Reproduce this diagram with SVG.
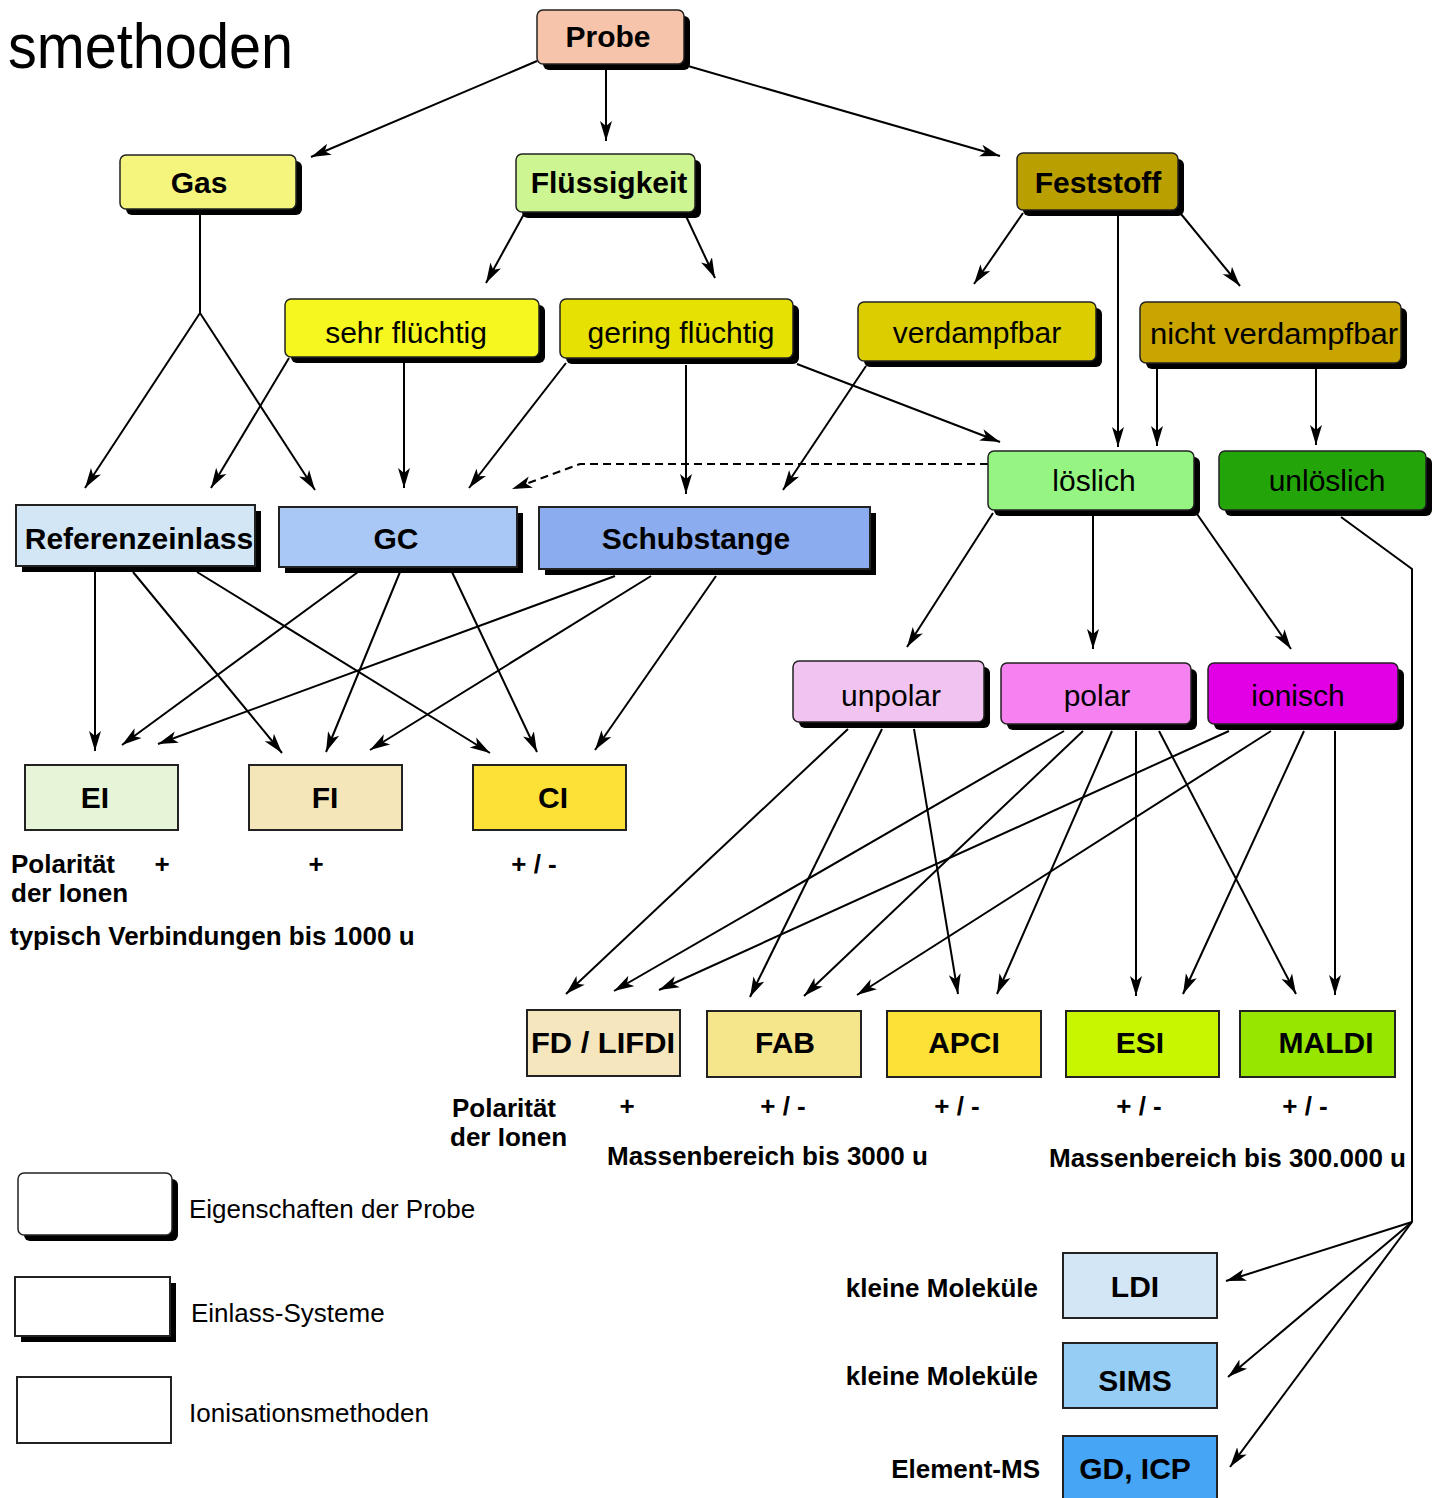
<svg xmlns="http://www.w3.org/2000/svg" width="1440" height="1498" viewBox="0 0 1440 1498">
<defs>
<style>
text{font-family:"Liberation Sans",Arial,sans-serif;fill:#000}
.nb{font-size:30px;font-weight:bold;text-anchor:middle}
.nr{font-size:30px;text-anchor:middle}
.an{font-size:26px;font-weight:bold}
.lg{font-size:26px}
.sh{fill:#000}
.rn{stroke:#222;stroke-width:1.5}
.sq{stroke:#222;stroke-width:2}
.c{fill:none;stroke:#000;stroke-width:2;marker-end:url(#ah)}
.cl{fill:none;stroke:#000;stroke-width:2}
.d{fill:none;stroke:#000;stroke-width:2;stroke-dasharray:8,5;marker-end:url(#ah)}
</style>
<marker id="ah" viewBox="0 0 20 14" refX="20" refY="7" markerWidth="20" markerHeight="14" markerUnits="userSpaceOnUse" orient="auto">
<path d="M0,1 L20,7 L0,13 L5,7 z" fill="#000"/>
</marker>
</defs>
<rect width="1440" height="1498" fill="#fff"/>
<text x="8" y="68" font-size="63" textLength="285" lengthAdjust="spacingAndGlyphs">smethoden</text>

<g id="connectors">
<line class="c" x1="537" y1="61" x2="311" y2="157"/>
<line class="c" x1="606" y1="68" x2="606" y2="141"/>
<line class="c" x1="688" y1="66" x2="1000" y2="156"/>
<polyline class="cl" points="200,212 200,313"/>
<line class="c" x1="200" y1="313" x2="85" y2="488"/>
<line class="c" x1="200" y1="313" x2="315" y2="490"/>
<line class="c" x1="524" y1="214" x2="486" y2="283"/>
<line class="c" x1="685" y1="214" x2="715" y2="278"/>
<line class="c" x1="1023" y1="213" x2="974" y2="284"/>
<line class="c" x1="1118" y1="213" x2="1118" y2="447"/>
<line class="c" x1="1181" y1="214" x2="1240" y2="286"/>
<line class="c" x1="289" y1="358" x2="211" y2="488"/>
<line class="c" x1="404" y1="362" x2="404" y2="488"/>
<line class="c" x1="566" y1="363" x2="469" y2="488"/>
<line class="c" x1="686" y1="365" x2="686" y2="494"/>
<line class="c" x1="797" y1="364" x2="1000" y2="442"/>
<line class="c" x1="866" y1="366" x2="783" y2="490"/>
<line class="c" x1="1157" y1="368" x2="1157" y2="446"/>
<line class="c" x1="1316" y1="368" x2="1316" y2="445"/>
<polyline class="d" points="988,464 580,464 512,489"/>
<line class="c" x1="993" y1="513" x2="907" y2="647"/>
<line class="c" x1="1093" y1="516" x2="1093" y2="649"/>
<line class="c" x1="1197" y1="514" x2="1291" y2="649"/>
<polyline class="cl" points="1341,517 1412,569 1412,1222"/>
<line class="c" x1="1412" y1="1222" x2="1226" y2="1281"/>
<line class="c" x1="1412" y1="1222" x2="1228" y2="1377"/>
<line class="c" x1="1412" y1="1222" x2="1230" y2="1467"/>
<line class="c" x1="95" y1="572" x2="95" y2="751"/>
<line class="c" x1="133" y1="572" x2="282" y2="753"/>
<line class="c" x1="197" y1="572" x2="490" y2="753"/>
<line class="c" x1="358" y1="572" x2="122" y2="745"/>
<line class="c" x1="400" y1="572" x2="326" y2="752"/>
<line class="c" x1="452" y1="572" x2="537" y2="752"/>
<line class="c" x1="615" y1="576" x2="158" y2="744"/>
<line class="c" x1="651" y1="576" x2="370" y2="750"/>
<line class="c" x1="716" y1="576" x2="595" y2="750"/>
<line class="c" x1="848" y1="729" x2="566" y2="994"/>
<line class="c" x1="882" y1="729" x2="750" y2="997"/>
<line class="c" x1="914" y1="729" x2="958" y2="994"/>
<line class="c" x1="1064" y1="731" x2="614" y2="991"/>
<line class="c" x1="1083" y1="731" x2="804" y2="996"/>
<line class="c" x1="1112" y1="731" x2="997" y2="994"/>
<line class="c" x1="1136" y1="731" x2="1136" y2="996"/>
<line class="c" x1="1159" y1="731" x2="1296" y2="994"/>
<line class="c" x1="1229" y1="731" x2="659" y2="990"/>
<line class="c" x1="1271" y1="731" x2="857" y2="995"/>
<line class="c" x1="1304" y1="731" x2="1183" y2="994"/>
<line class="c" x1="1335" y1="731" x2="1335" y2="995"/>
</g>

<g id="probe"><rect class="sh" x="543" y="16" width="147" height="54" rx="6"/><rect class="rn" x="537" y="10" width="147" height="54" rx="6" fill="#f5c4aa"/><text class="nb" x="608" y="47">Probe</text></g>
<g id="gas"><rect class="sh" x="126" y="161" width="176" height="54" rx="6"/><rect class="rn" x="120" y="155" width="176" height="54" rx="6" fill="#f5f57d"/><text class="nb" x="199" y="193">Gas</text></g>
<g id="fluessigkeit"><rect class="sh" x="522" y="160" width="179" height="58" rx="6"/><rect class="rn" x="516" y="154" width="179" height="58" rx="6" fill="#cdf591"/><text class="nb" x="609" y="193">Flüssigkeit</text></g>
<g id="feststoff"><rect class="sh" x="1023" y="159" width="161" height="57" rx="6"/><rect class="rn" x="1017" y="153" width="161" height="57" rx="6" fill="#b9a000"/><text class="nb" x="1098" y="193">Feststoff</text></g>

<g id="sehr-fluechtig"><rect class="sh" x="291" y="305" width="254" height="58" rx="6"/><rect class="rn" x="285" y="299" width="254" height="58" rx="6" fill="#f7f720"/><text class="nr" x="406" y="343">sehr flüchtig</text></g>
<g id="gering-fluechtig"><rect class="sh" x="566" y="305" width="233" height="59" rx="6"/><rect class="rn" x="560" y="299" width="233" height="59" rx="6" fill="#e6e100"/><text class="nr" x="681" y="343">gering flüchtig</text></g>
<g id="verdampfbar"><rect class="sh" x="864" y="308" width="238" height="59" rx="6"/><rect class="rn" x="858" y="302" width="238" height="59" rx="6" fill="#dccd00"/><text class="nr" x="977" y="343">verdampfbar</text></g>
<g id="nicht-verdampfbar"><rect class="sh" x="1146" y="308" width="261" height="61" rx="6"/><rect class="rn" x="1140" y="302" width="261" height="61" rx="6" fill="#c8a500"/><text class="nr" x="1274" y="344" textLength="248" lengthAdjust="spacingAndGlyphs">nicht verdampfbar</text></g>

<g id="loeslich"><rect class="sh" x="994" y="457" width="206" height="59" rx="6"/><rect class="rn" x="988" y="451" width="206" height="59" rx="6" fill="#96f582"/><text class="nr" x="1094" y="491">löslich</text></g>
<g id="unloeslich"><rect class="sh" x="1225" y="457" width="207" height="59" rx="6"/><rect class="rn" x="1219" y="451" width="207" height="59" rx="6" fill="#23a50a"/><text class="nr" x="1327" y="491">unlöslich</text></g>

<g id="referenzeinlass"><rect class="sh" x="22" y="511" width="239" height="61"/><rect class="sq" x="16" y="505" width="239" height="61" fill="#d2e6f5"/><text class="nb" x="139" y="549">Referenzeinlass</text></g>
<g id="gc"><rect class="sh" x="285" y="513" width="238" height="60"/><rect class="sq" x="279" y="507" width="238" height="60" fill="#aac8f5"/><text class="nb" x="396" y="549">GC</text></g>
<g id="schubstange"><rect class="sh" x="545" y="513" width="331" height="62"/><rect class="sq" x="539" y="507" width="331" height="62" fill="#8cacf0"/><text class="nb" x="696" y="549">Schubstange</text></g>

<g id="unpolar"><rect class="sh" x="799" y="667" width="191" height="61" rx="6"/><rect class="rn" x="793" y="661" width="191" height="61" rx="6" fill="#f0c3f0"/><text class="nr" x="891" y="706">unpolar</text></g>
<g id="polar"><rect class="sh" x="1007" y="669" width="190" height="61" rx="6"/><rect class="rn" x="1001" y="663" width="190" height="61" rx="6" fill="#f582f0"/><text class="nr" x="1097" y="706">polar</text></g>
<g id="ionisch"><rect class="sh" x="1214" y="669" width="190" height="61" rx="6"/><rect class="rn" x="1208" y="663" width="190" height="61" rx="6" fill="#e100e6"/><text class="nr" x="1298" y="706">ionisch</text></g>

<g id="ei"><rect class="sq" x="25" y="765" width="153" height="65" fill="#e6f5d7"/><text class="nb" x="95" y="808">EI</text></g>
<g id="fi"><rect class="sq" x="249" y="765" width="153" height="65" fill="#f5e6b9"/><text class="nb" x="325" y="808">FI</text></g>
<g id="ci"><rect class="sq" x="473" y="765" width="153" height="65" fill="#fde136"/><text class="nb" x="553" y="808">CI</text></g>

<g id="fd-lifdi"><rect class="sq" x="527" y="1010" width="153" height="66" fill="#f5e6be"/><text class="nb" x="603" y="1053" textLength="144" lengthAdjust="spacingAndGlyphs">FD / LIFDI</text></g>
<g id="fab"><rect class="sq" x="707" y="1011" width="154" height="66" fill="#f5e68c"/><text class="nb" x="785" y="1053">FAB</text></g>
<g id="apci"><rect class="sq" x="887" y="1011" width="154" height="66" fill="#fde136"/><text class="nb" x="964" y="1053">APCI</text></g>
<g id="esi"><rect class="sq" x="1066" y="1011" width="153" height="66" fill="#c8f500"/><text class="nb" x="1140" y="1053">ESI</text></g>
<g id="maldi"><rect class="sq" x="1240" y="1011" width="155" height="66" fill="#96e600"/><text class="nb" x="1326" y="1053">MALDI</text></g>

<g id="ldi"><rect class="sq" x="1063" y="1253" width="154" height="65" fill="#d2e6f5"/><text class="nb" x="1135" y="1297">LDI</text></g>
<g id="sims"><rect class="sq" x="1063" y="1343" width="154" height="65" fill="#96cdf5"/><text class="nb" x="1135" y="1391">SIMS</text></g>
<g id="gd-icp"><rect class="sq" x="1063" y="1436" width="154" height="70" fill="#46a5f5"/><text class="nb" x="1135" y="1479">GD, ICP</text></g>

<g id="labels">
<text class="an" x="11" y="873">Polarität</text>
<text class="an" x="11" y="902">der Ionen</text>
<text class="an" x="162" y="873" text-anchor="middle">+</text>
<text class="an" x="316" y="873" text-anchor="middle">+</text>
<text class="an" x="534" y="873" text-anchor="middle">+ / -</text>
<text class="an" x="10" y="945">typisch Verbindungen bis 1000 u</text>
<text class="an" x="452" y="1117">Polarität</text>
<text class="an" x="450" y="1146">der Ionen</text>
<text class="an" x="627" y="1115" text-anchor="middle">+</text>
<text class="an" x="783" y="1115" text-anchor="middle">+ / -</text>
<text class="an" x="957" y="1115" text-anchor="middle">+ / -</text>
<text class="an" x="1139" y="1115" text-anchor="middle">+ / -</text>
<text class="an" x="1305" y="1115" text-anchor="middle">+ / -</text>
<text class="an" x="607" y="1165">Massenbereich bis 3000 u</text>
<text class="an" x="1049" y="1167">Massenbereich bis 300.000 u</text>
<text class="an" x="1038" y="1297" text-anchor="end">kleine Moleküle</text>
<text class="an" x="1038" y="1385" text-anchor="end">kleine Moleküle</text>
<text class="an" x="1040" y="1478" text-anchor="end">Element-MS</text>
</g>

<g id="legend">
<rect class="sh" x="24" y="1179" width="154" height="62" rx="6"/>
<rect class="rn" x="18" y="1173" width="154" height="62" rx="6" fill="#fff"/>
<text class="lg" x="189" y="1218">Eigenschaften der Probe</text>
<rect class="sh" x="21" y="1283" width="155" height="59"/>
<rect class="sq" x="15" y="1277" width="155" height="59" fill="#fff"/>
<text class="lg" x="191" y="1322">Einlass-Systeme</text>
<rect class="sq" x="17" y="1377" width="154" height="66" fill="#fff"/>
<text class="lg" x="189" y="1422">Ionisationsmethoden</text>
</g>
</svg>
